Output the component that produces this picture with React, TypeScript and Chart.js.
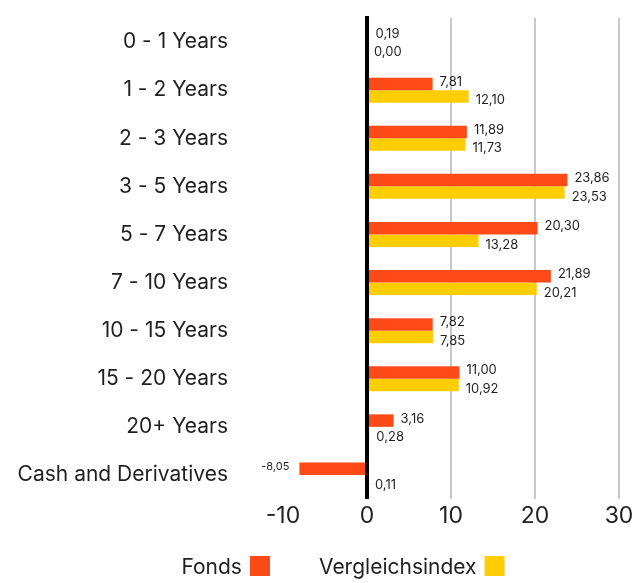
import React, { useEffect, useRef } from "react";
import { Chart, registerables } from "chart.js";

Chart.register(...registerables);

const categories = [
  "0 - 1 Years",
  "1 - 2 Years",
  "2 - 3 Years",
  "3 - 5 Years",
  "5 - 7 Years",
  "7 - 10 Years",
  "10 - 15 Years",
  "15 - 20 Years",
  "20+ Years",
  "Cash and Derivatives",
];
const fondsValues = [0.19, 7.81, 11.89, 23.86, 20.3, 21.89, 7.82, 11.0, 3.16, -8.05];
const indexValues = [0.0, 12.1, 11.73, 23.53, 13.28, 20.21, 7.85, 10.92, 0.28, 0.11];
const seriesNames = ["Fonds", "Vergleichsindex"];
const seriesColors = ["#FF4A17", "#FFCD00"];
const xTicks = [-10, 0, 10, 20, 30];

const FONT = "Inter, 'Noto Sans', sans-serif";
const TEXT = "#1f1f1f";

const fmt = (v: number) => v.toFixed(2).replace(".", ",");

const labelsPlugin = {
  id: "valueLabels",
  afterDatasetsDraw(chart: any) {
    const ctx = chart.ctx;
    ctx.save();
    chart.data.datasets.forEach((ds: any, di: number) => {
      const meta = chart.getDatasetMeta(di);
      meta.data.forEach((el: any, i: number) => {
        const v = ds.data[i];
        const yOff = di === 0 ? -2 : 4;
        ctx.fillStyle = TEXT;
        ctx.textBaseline = "middle";
        if (v >= 0) {
          ctx.font = `13px ${FONT}`;
          ctx.textAlign = "left";
          ctx.fillText(fmt(v), el.x + 7, el.y + yOff);
        } else {
          ctx.font = `11px ${FONT}`;
          ctx.textAlign = "right";
          ctx.fillText(fmt(v), el.x - 10, el.y + yOff);
        }
      });
    });
    // zero line on top
    const xs = chart.scales.x;
    const x0 = xs.getPixelForValue(0);
    ctx.strokeStyle = "#000";
    ctx.lineWidth = 4;
    ctx.beginPath();
    ctx.moveTo(x0, chart.chartArea.top - 2);
    ctx.lineTo(x0, chart.chartArea.bottom);
    ctx.stroke();
    ctx.restore();
  },
};

const legendPlugin = {
  id: "customLegend",
  afterDraw(chart: any) {
    const ctx = chart.ctx;
    ctx.save();
    ctx.font = `21px ${FONT}`;
    const w1 = ctx.measureText(seriesNames[0]).width;
    const w2 = ctx.measureText(seriesNames[1]).width;
    const box = 20;
    const gapText = 8;
    const gapItem = 49;
    const total = w1 + gapText + box + gapItem + w2 + gapText + box;
    let x = 343 - total / 2;
    const yc = 568;
    ctx.textBaseline = "middle";
    ctx.textAlign = "left";
    [w1, w2].forEach((w, i) => {
      ctx.fillStyle = TEXT;
      ctx.fillText(seriesNames[i], x, yc);
      x += w + gapText;
      ctx.fillStyle = seriesColors[i];
      ctx.fillRect(x, yc - 12, box, box);
      x += box + gapItem;
    });
    ctx.restore();
  },
};

export default function App() {
  const ref = useRef<HTMLCanvasElement>(null);
  useEffect(() => {
    if (!ref.current) return;
    const chart = new Chart(ref.current, {
      type: "bar",
      data: {
        labels: categories,
        datasets: [
          {
            label: seriesNames[0],
            data: fondsValues,
            backgroundColor: seriesColors[0],
            categoryPercentage: 0.52,
            barPercentage: 1,
          },
          {
            label: seriesNames[1],
            data: indexValues,
            backgroundColor: seriesColors[1],
            categoryPercentage: 0.52,
            barPercentage: 1,
          },
        ],
      },
      options: {
        indexAxis: "y",
        responsive: false,
        animation: false,
        layout: { padding: { top: 18, right: 24, bottom: 54, left: 0 } },
        plugins: {
          legend: { display: false },
          tooltip: { enabled: false },
        },
        scales: {
          x: {
            min: -10,
            max: 30,
            afterBuildTicks(scale: any) {
              scale.ticks = xTicks.map((v) => ({ value: v }));
            },
            afterFit(scale: any) {
              scale.height = 30;
            },
            border: { display: false },
            grid: {
              drawTicks: false,
              color: (c: any) =>
                c.tick && (c.tick.value === -10 || c.tick.value === 0) ? "rgba(0,0,0,0)" : "#c8c8c8",
              lineWidth: 2,
            },
            ticks: {
              padding: 3,
              color: TEXT,
              font: { family: FONT, size: 23 },
              callback: (v: any) => String(v),
            },
          },
          y: {
            afterFit(scale: any) {
              scale.width = 283;
              scale.paddingTop = 0;
              scale.paddingBottom = 0;
            },
            border: { display: false },
            grid: { display: false, drawTicks: false },
            ticks: {
              padding: 55,
              color: TEXT,
              font: { family: FONT, size: 21 },
            },
          },
        },
      },
      plugins: [labelsPlugin, legendPlugin],
    });
    return () => chart.destroy();
  }, []);
  return (
    <div style={{ position: "fixed", left: 0, top: 0, width: 643, height: 583, background: "#fff" }}>
      <canvas ref={ref} width={643} height={583} style={{ display: "block" }} />
    </div>
  );
}
